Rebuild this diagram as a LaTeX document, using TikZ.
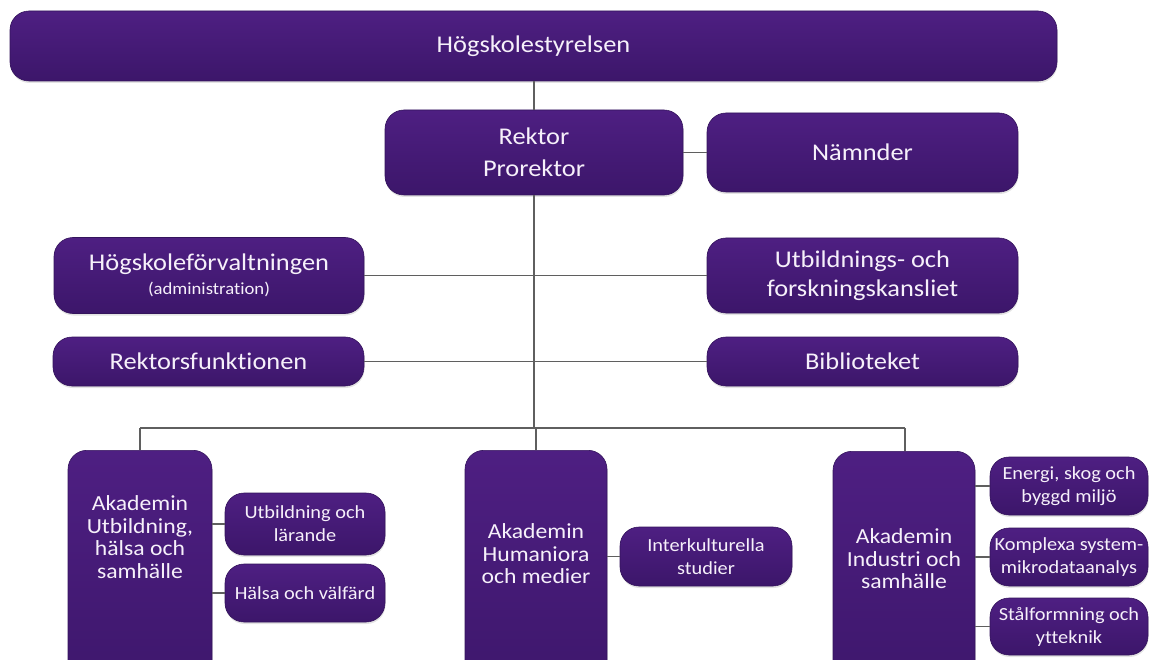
\documentclass[tikz,border=0pt]{standalone}
\usepackage{fontspec}
\setmainfont{Carlito}[FakeStretch=1.1, Ligatures={NoCommon}]
\usetikzlibrary{shadows}
\definecolor{pTop}{RGB}{78,31,130}
\definecolor{pBot}{RGB}{60,22,106}
\definecolor{pEdge}{RGB}{52,20,92}
\definecolor{txtc}{RGB}{246,240,250}
\definecolor{linec}{RGB}{95,95,95}
\tikzset{
  box/.style={rectangle, rounded corners=19pt, top color=pTop, bottom color=pBot,
    draw=pEdge, line width=0.6pt, text=txtc, align=center, inner sep=0pt,
    drop shadow={shadow xshift=0.5pt, shadow yshift=-2pt, opacity=0.22}},
  big/.style={font=\fontsize{24}{31}\selectfont},
  subbox/.style={box, font=\fontsize{18.5}{23}\selectfont},
  aktext/.style={text=txtc, align=center, inner sep=0pt, font=\fontsize{21.5}{22.5}\selectfont},
  conn/.style={draw=linec, line width=1.4pt},
}
\begin{document}
\begin{tikzpicture}[x=1pt,y=-1pt]
\useasboundingbox (0,0) rectangle (1150,660);
\clip (0,0) rectangle (1150,660);

% top level
\node[box, big, minimum width=1047pt, minimum height=70pt] (styr) at (533.5,46) {Högskolestyrelsen};
\node[box, font=\fontsize{24}{32}\selectfont, minimum width=298pt, minimum height=85pt] (rektor) at (534,152.5) {Rektor\\Prorektor};
\node[box, big, minimum width=311pt, minimum height=79pt] (namnd) at (862.5,152.5) {Nämnder};

% middle
\node[box, font=\fontsize{24}{24}\selectfont, minimum width=310pt, minimum height=76pt] (forv) at (209,275.5) {Högskoleförvaltningen\\{\fontsize{17}{20}\selectfont (administration)}};
\node[box, font=\fontsize{24}{29}\selectfont, minimum width=311pt, minimum height=75pt] (utb) at (862.5,275.5) {Utbildnings- och\\forskningskansliet};
\node[box, big, minimum width=311pt, minimum height=49pt] (rekf) at (208.5,361.5) {Rektorsfunktionen};
\node[box, big, minimum width=311pt, minimum height=49pt] (bibl) at (862.5,361.5) {Biblioteket};

% academies (boxes run past the lower edge)
\node[box, minimum width=144pt, minimum height=260pt, anchor=north] (uhs) at (140,450) {};
\node[aktext] (uhs-t) at (140,537) {Akademin\\Utbildning,\\hälsa och\\samhälle};
\node[box, minimum width=142pt, minimum height=260pt, anchor=north] (hum) at (536,450) {};
\node[aktext] (hum-t) at (536,554) {Akademin\\Humaniora\\och medier};
\node[box, minimum width=142pt, minimum height=260pt, anchor=north] (ind) at (904,451) {};
\node[aktext] (ind-t) at (904,559) {Akademin\\Industri och\\samhälle};

% sub units
\node[subbox, minimum width=160pt, minimum height=62pt] (ul) at (305,524) {Utbildning och\\lärande};
\node[subbox, minimum width=160pt, minimum height=58pt] (hv) at (305,593) {Hälsa och välfärd};
\node[subbox, minimum width=172pt, minimum height=59pt] (ik) at (706,556.5) {Interkulturella\\studier};
\node[subbox, minimum width=158pt, minimum height=58pt] (en) at (1069,486) {Energi, skog och\\byggd miljö};
\node[subbox, minimum width=158pt, minimum height=58pt] (ko) at (1069,557) {Komplexa system-\\mikrodataanalys};
\node[subbox, minimum width=158pt, minimum height=57pt] (st) at (1069,626.5) {Stålformning och\\ytteknik};

% bus coordinates
\coordinate (busL) at (140,428);
\coordinate (busR) at (905,428);

% connectors
\draw[conn] (rektor.north) -- (rektor.north |- styr.south);
\draw[conn] (rektor.east) -- (namnd.west);
\draw[conn] (rektor.south) -- (rektor.south |- busL);
\draw[conn] (forv.east) -- (utb.west);
\draw[conn] (rekf.east) -- (bibl.west);
\draw[conn] (busL) -- (busR);
\draw[conn] (busL) -- (uhs.north);
\draw[conn] (busR) -- (busR |- ind.north);
\draw[conn] (hum.north) -- (hum.north |- busL);
\draw[conn] (ul.west) -- (ul.west -| uhs.east);
\draw[conn] (hv.west) -- (hv.west -| uhs.east);
\draw[conn] (ik.west) -- (ik.west -| hum.east);
\draw[conn] (en.west) -- (en.west -| ind.east);
\draw[conn] (ko.west) -- (ko.west -| ind.east);
\draw[conn] (st.west) -- (st.west -| ind.east);
\end{tikzpicture}
\end{document}
